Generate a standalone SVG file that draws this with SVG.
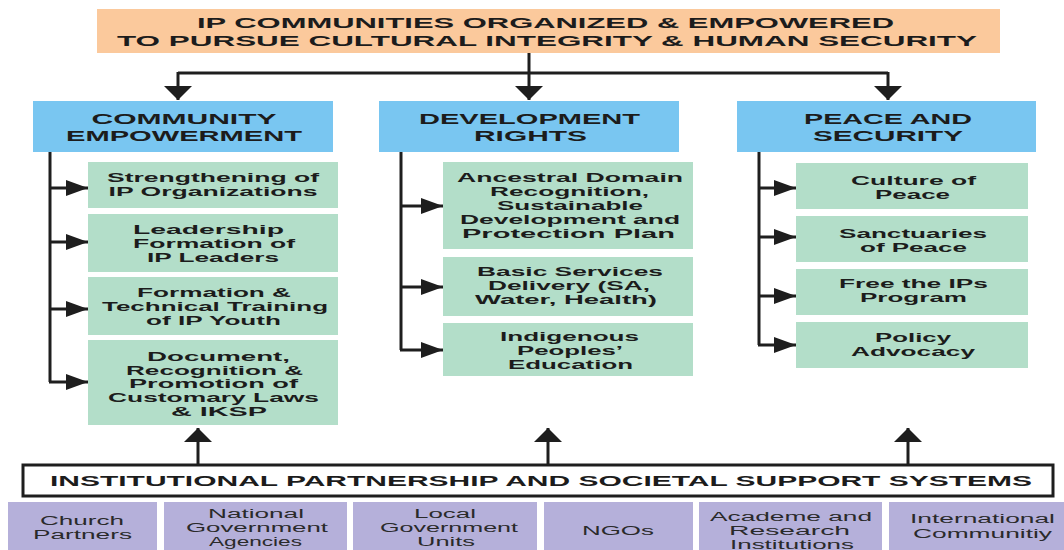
<svg xmlns="http://www.w3.org/2000/svg" width="1064" height="550" viewBox="0 0 1064 550">
<defs>
<style>
text{font-family:"Liberation Sans",Arial,sans-serif;fill:#1c1c1c;text-anchor:middle}
.h{font-weight:bold;font-size:15.5px}
.g{font-weight:bold;font-size:12.5px}
.p{font-size:12.5px;fill:#2a2a2a}
.top{fill:#fbc99c}
.blue{fill:#79c6f1}
.green{fill:#b3dec9}
.purple{fill:#b5b0da}
.ln{stroke:#1e1e1e;stroke-width:3;fill:none}
</style>
<marker id="av" markerUnits="userSpaceOnUse" markerWidth="14" markerHeight="28" refX="14" refY="14" orient="auto" viewBox="0 0 14 28"><path d="M0,0 L14,14 L0,28 z" fill="#1e1e1e"/></marker>
<marker id="ah" markerUnits="userSpaceOnUse" markerWidth="22" markerHeight="16" refX="22" refY="8" orient="auto" viewBox="0 0 22 16"><path d="M0,0 L22,8 L0,16 z" fill="#1e1e1e"/></marker>
</defs>
<rect width="1064" height="550" fill="#ffffff"/>

<g id="connectors">
<path class="ln" d="M529,53 V100" marker-end="url(#av)"/>
<path class="ln" d="M178,73 H888"/>
<path class="ln" d="M178,72 V100" marker-end="url(#av)"/>
<path class="ln" d="M888,72 V100" marker-end="url(#av)"/>
<path class="ln" d="M50,152 V382"/>
<path class="ln" d="M49,188 H88" marker-end="url(#ah)"/>
<path class="ln" d="M49,242 H88" marker-end="url(#ah)"/>
<path class="ln" d="M49,309 H88" marker-end="url(#ah)"/>
<path class="ln" d="M49,382 H88" marker-end="url(#ah)"/>
<path class="ln" d="M401,152 V350"/>
<path class="ln" d="M400,206 H443" marker-end="url(#ah)"/>
<path class="ln" d="M400,287 H443" marker-end="url(#ah)"/>
<path class="ln" d="M400,350 H443" marker-end="url(#ah)"/>
<path class="ln" d="M759,152 V345"/>
<path class="ln" d="M758,188 H796" marker-end="url(#ah)"/>
<path class="ln" d="M758,237 H796" marker-end="url(#ah)"/>
<path class="ln" d="M758,296 H796" marker-end="url(#ah)"/>
<path class="ln" d="M758,345 H796" marker-end="url(#ah)"/>
<path class="ln" d="M198,465 V428" marker-end="url(#av)"/>
<path class="ln" d="M548,465 V428" marker-end="url(#av)"/>
<path class="ln" d="M908,465 V428" marker-end="url(#av)"/>
</g>

<g id="goal">
<rect class="top" x="97" y="9" width="903" height="44"/>
<text class="h" x="545.5" y="28" textLength="697" lengthAdjust="spacingAndGlyphs">IP COMMUNITIES ORGANIZED &amp; EMPOWERED</text>
<text class="h" x="547" y="46" textLength="860" lengthAdjust="spacingAndGlyphs">TO PURSUE CULTURAL INTEGRITY &amp; HUMAN SECURITY</text>
</g>

<g id="community-empowerment">
<rect class="blue" x="33" y="101" width="300" height="51"/>
<text class="h" x="184" y="124" textLength="185" lengthAdjust="spacingAndGlyphs">COMMUNITY</text>
<text class="h" x="184" y="141" textLength="236" lengthAdjust="spacingAndGlyphs">EMPOWERMENT</text>
</g>
<g id="development-rights">
<rect class="blue" x="379" y="101" width="300" height="51"/>
<text class="h" x="529.5" y="124" textLength="221" lengthAdjust="spacingAndGlyphs">DEVELOPMENT</text>
<text class="h" x="530.5" y="141" textLength="113" lengthAdjust="spacingAndGlyphs">RIGHTS</text>
</g>
<g id="peace-security">
<rect class="blue" x="737" y="101" width="299" height="51"/>
<text class="h" x="888" y="124" textLength="168" lengthAdjust="spacingAndGlyphs">PEACE AND</text>
<text class="h" x="888" y="141" textLength="150" lengthAdjust="spacingAndGlyphs">SECURITY</text>
</g>

<g id="ce-1">
<rect class="green" x="88" y="162" width="250" height="46"/>
<text class="g" x="213" y="182" textLength="212" lengthAdjust="spacingAndGlyphs">Strengthening of</text>
<text class="g" x="213" y="196" textLength="209" lengthAdjust="spacingAndGlyphs">IP Organizations</text>
</g>
<g id="ce-2">
<rect class="green" x="88" y="214" width="250" height="58"/>
<text class="g" x="208.5" y="234" textLength="151" lengthAdjust="spacingAndGlyphs">Leadership</text>
<text class="g" x="214" y="248" textLength="162" lengthAdjust="spacingAndGlyphs">Formation of</text>
<text class="g" x="213" y="262" textLength="132" lengthAdjust="spacingAndGlyphs">IP Leaders</text>
</g>
<g id="ce-3">
<rect class="green" x="88" y="277" width="250" height="58"/>
<text class="g" x="214" y="297" textLength="154" lengthAdjust="spacingAndGlyphs">Formation &amp;</text>
<text class="g" x="215" y="311" textLength="226" lengthAdjust="spacingAndGlyphs">Technical Training</text>
<text class="g" x="213.5" y="325" textLength="135" lengthAdjust="spacingAndGlyphs">of IP Youth</text>
</g>
<g id="ce-4">
<rect class="green" x="88" y="340" width="250" height="85"/>
<text class="g" x="218.5" y="361" textLength="143" lengthAdjust="spacingAndGlyphs">Document,</text>
<text class="g" x="214.5" y="374.5" textLength="177" lengthAdjust="spacingAndGlyphs">Recognition &amp;</text>
<text class="g" x="213.5" y="388" textLength="169" lengthAdjust="spacingAndGlyphs">Promotion of</text>
<text class="g" x="213.5" y="402" textLength="211" lengthAdjust="spacingAndGlyphs">Customary Laws</text>
<text class="g" x="219" y="416" textLength="96" lengthAdjust="spacingAndGlyphs">&amp; IKSP</text>
</g>

<g id="dr-1">
<rect class="green" x="443" y="162" width="250" height="87"/>
<text class="g" x="570" y="182" textLength="226" lengthAdjust="spacingAndGlyphs">Ancestral Domain</text>
<text class="g" x="569.5" y="196" textLength="159" lengthAdjust="spacingAndGlyphs">Recognition,</text>
<text class="g" x="570" y="210" textLength="146" lengthAdjust="spacingAndGlyphs">Sustainable</text>
<text class="g" x="570" y="224" textLength="220" lengthAdjust="spacingAndGlyphs">Development and</text>
<text class="g" x="568.5" y="238" textLength="213" lengthAdjust="spacingAndGlyphs">Protection Plan</text>
</g>
<g id="dr-2">
<rect class="green" x="443" y="257" width="250" height="59"/>
<text class="g" x="570" y="276" textLength="186" lengthAdjust="spacingAndGlyphs">Basic Services</text>
<text class="g" x="569" y="290" textLength="162" lengthAdjust="spacingAndGlyphs">Delivery (SA,</text>
<text class="g" x="566" y="304" textLength="182" lengthAdjust="spacingAndGlyphs">Water, Health)</text>
</g>
<g id="dr-3">
<rect class="green" x="443" y="323" width="250" height="53"/>
<text class="g" x="569.5" y="341" textLength="139" lengthAdjust="spacingAndGlyphs">Indigenous</text>
<text class="g" x="570" y="355" textLength="106" lengthAdjust="spacingAndGlyphs">Peoples’</text>
<text class="g" x="570.5" y="369" textLength="125" lengthAdjust="spacingAndGlyphs">Education</text>
</g>

<g id="ps-1">
<rect class="green" x="796" y="163" width="232" height="46"/>
<text class="g" x="913.5" y="185" textLength="125" lengthAdjust="spacingAndGlyphs">Culture of</text>
<text class="g" x="912.5" y="199" textLength="75" lengthAdjust="spacingAndGlyphs">Peace</text>
</g>
<g id="ps-2">
<rect class="green" x="796" y="216" width="232" height="46"/>
<text class="g" x="913" y="238" textLength="148" lengthAdjust="spacingAndGlyphs">Sanctuaries</text>
<text class="g" x="913.5" y="252" textLength="107" lengthAdjust="spacingAndGlyphs">of Peace</text>
</g>
<g id="ps-3">
<rect class="green" x="796" y="269" width="232" height="46"/>
<text class="g" x="913.5" y="288" textLength="149" lengthAdjust="spacingAndGlyphs">Free the IPs</text>
<text class="g" x="913.5" y="302" textLength="107" lengthAdjust="spacingAndGlyphs">Program</text>
</g>
<g id="ps-4">
<rect class="green" x="796" y="322" width="232" height="46"/>
<text class="g" x="913" y="342" textLength="76" lengthAdjust="spacingAndGlyphs">Policy</text>
<text class="g" x="913" y="356" textLength="124" lengthAdjust="spacingAndGlyphs">Advocacy</text>
</g>

<g id="support-systems">
<rect x="23" y="465" width="1030" height="31" fill="#ffffff" stroke="#1e1e1e" stroke-width="3"/>
<text class="h" x="541" y="486" textLength="982" lengthAdjust="spacingAndGlyphs">INSTITUTIONAL PARTNERSHIP AND SOCIETAL SUPPORT SYSTEMS</text>
</g>

<g id="church-partners">
<rect class="purple" x="8" y="502" width="149" height="48"/>
<text class="p" x="82" y="525" textLength="84" lengthAdjust="spacingAndGlyphs">Church</text>
<text class="p" x="82.5" y="539" textLength="99" lengthAdjust="spacingAndGlyphs">Partners</text>
</g>
<g id="national-government">
<rect class="purple" x="164" y="502" width="183" height="48"/>
<text class="p" x="256" y="518" textLength="96" lengthAdjust="spacingAndGlyphs">National</text>
<text class="p" x="257" y="532" textLength="142" lengthAdjust="spacingAndGlyphs">Government</text>
<text class="p" x="255.5" y="546" textLength="93" lengthAdjust="spacingAndGlyphs">Agencies</text>
</g>
<g id="local-government">
<rect class="purple" x="353" y="502" width="184" height="48"/>
<text class="p" x="445" y="518" textLength="62" lengthAdjust="spacingAndGlyphs">Local</text>
<text class="p" x="449" y="532" textLength="138" lengthAdjust="spacingAndGlyphs">Government</text>
<text class="p" x="446" y="546" textLength="58" lengthAdjust="spacingAndGlyphs">Units</text>
</g>
<g id="ngos">
<rect class="purple" x="544" y="502" width="149" height="48"/>
<text class="p" x="618" y="535" textLength="72" lengthAdjust="spacingAndGlyphs">NGOs</text>
</g>
<g id="academe">
<rect class="purple" x="699" y="502" width="183" height="48"/>
<text class="p" x="791" y="521" textLength="162" lengthAdjust="spacingAndGlyphs">Academe and</text>
<text class="p" x="789.5" y="535" textLength="121" lengthAdjust="spacingAndGlyphs">Research</text>
<text class="p" x="792" y="549" textLength="124" lengthAdjust="spacingAndGlyphs">Institutions</text>
</g>
<g id="international">
<rect class="purple" x="889" y="502" width="175" height="48"/>
<text class="p" x="982.5" y="523" textLength="145" lengthAdjust="spacingAndGlyphs">International</text>
<text class="p" x="982.5" y="538" textLength="139" lengthAdjust="spacingAndGlyphs">Communitiy</text>
</g>
</svg>
